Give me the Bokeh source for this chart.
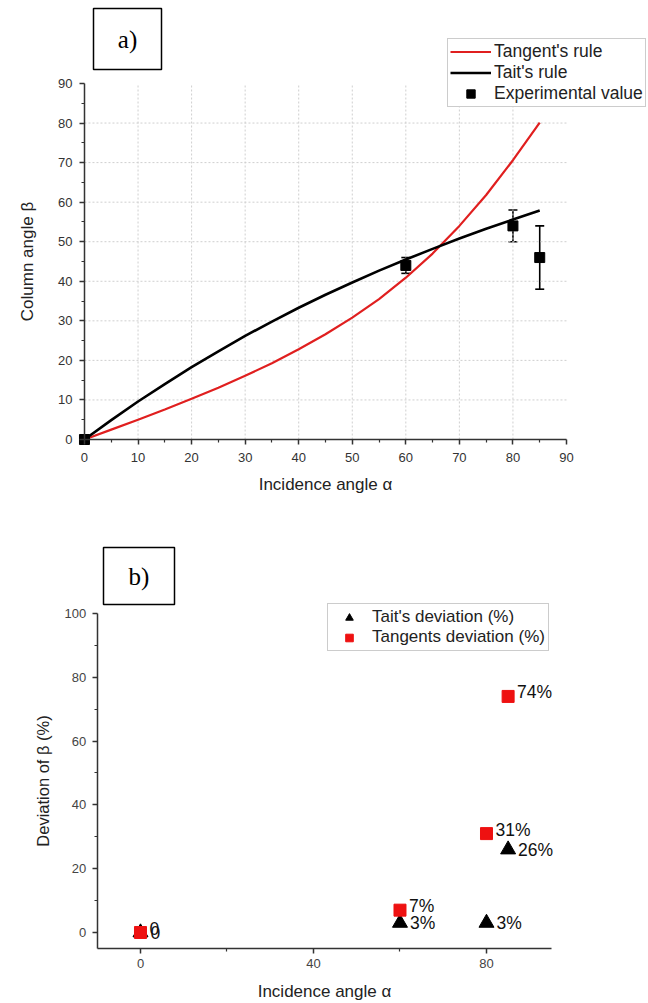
from bokeh.plotting import figure
from bokeh.models import (ColumnDataSource, Legend, LegendItem, Whisker, TeeHead,
                          BoxAnnotation, Label, LabelSet, FixedTicker, Range1d, LinearAxis)
from bokeh.core.properties import value
from bokeh.layouts import column
from bokeh.embed import file_html
from bokeh.resources import INLINE

# ---------------- data (panel a) ----------------
alpha = [0, 5, 10, 15, 20, 25, 30, 35, 40, 45, 50, 55, 60, 65, 70, 75, 80, 85]
tangent_rule = [0, 2.5, 5.0, 7.6, 10.3, 13.1, 16.1, 19.3, 22.8, 26.6, 30.8, 35.5,
                40.9, 47.0, 54.0, 61.8, 70.6, 80.1]
tait_rule = [0, 4.9, 9.6, 14.0, 18.3, 22.3, 26.2, 29.8, 33.3, 36.6, 39.7, 42.7,
             45.5, 48.2, 50.8, 53.3, 55.6, 57.9]
exp_alpha = [0, 60, 80, 85]
exp_beta = [0, 44, 54, 46]
exp_err = [0, 2, 4, 8]
a_ticks = [0, 10, 20, 30, 40, 50, 60, 70, 80, 90]

# ---------------- data (panel b) ----------------
dev_alpha = [0, 60, 80, 85]
tait_dev = [0, 3, 3, 26]
tangent_dev = [0, 7, 31, 74]
tait_dev_labels = ["0", "3%", "3%", "26%"]
tangent_dev_labels = ["0", "7%", "31%", "74%"]
b_xticks = [0, 40, 80]
b_yticks = [0, 20, 40, 60, 80, 100]

FONT = "Liberation Sans"
RED = "#e01f1f"


def make_axis(cls_kwargs, tick_size, label_size, label_color):
    ax = LinearAxis(**cls_kwargs)
    ax.axis_line_color = "#333333"
    ax.axis_line_width = 1.5
    ax.major_tick_line_color = "#333333"
    ax.minor_tick_line_color = "#333333"
    ax.major_tick_line_width = 1.5
    ax.minor_tick_line_width = 1.2
    ax.major_tick_out = 5
    ax.major_tick_in = 0
    ax.minor_tick_out = 3
    ax.minor_tick_in = 0
    ax.major_label_text_font = FONT
    ax.major_label_text_font_size = tick_size
    ax.major_label_text_color = label_color
    ax.axis_label_text_font = FONT
    ax.axis_label_text_font_size = label_size
    ax.axis_label_text_font_style = "normal"
    ax.axis_label_text_color = "#222222"
    return ax


# ================= panel a =================
# frame covers the whole figure; axes are pinned at data 0 with bounds
p1 = figure(width=648, height=500, output_backend="svg", toolbar_location=None,
            x_range=Range1d(-15.68, 105.31), y_range=Range1d(-15.42, 110.98),
            x_axis_location=None, y_axis_location=None,
            min_border=0, min_border_left=0, min_border_right=0,
            min_border_top=0, min_border_bottom=0)
p1.outline_line_color = None
p1.xgrid.visible = False
p1.ygrid.visible = False

# dotted grid limited to the axes' extent
g_ticks = a_ticks[1:-1]
p1.segment(x0=g_ticks, y0=[a_ticks[0]] * len(g_ticks), x1=g_ticks, y1=[a_ticks[-1]] * len(g_ticks),
           line_color="#cfcfcf", line_dash="2 2", line_width=1)
p1.segment(x0=[a_ticks[0]] * len(g_ticks), y0=g_ticks, x1=[a_ticks[-1]] * len(g_ticks), y1=g_ticks,
           line_color="#cfcfcf", line_dash="2 2", line_width=1)

xa1 = make_axis(dict(fixed_location=0, bounds=(0, 90),
                     ticker=FixedTicker(ticks=a_ticks, minor_ticks=list(range(5, 90, 10))),
                     axis_label="Incidence angle α"), "13px", "17px", "#333333")
xa1.major_label_standoff = 8
xa1.axis_label_standoff = 10
ya1 = make_axis(dict(fixed_location=0, bounds=(0, 90),
                     ticker=FixedTicker(ticks=a_ticks, minor_ticks=list(range(5, 90, 10))),
                     axis_label="Column angle β"), "13px", "17px", "#333333")
ya1.major_label_standoff = 7
ya1.axis_label_standoff = 18
p1.add_layout(xa1, "below")
p1.add_layout(ya1, "left")

src_a = ColumnDataSource(dict(alpha=alpha, tan=tangent_rule, tait=tait_rule))
r_tan = p1.line("alpha", "tan", source=src_a, line_color=RED, line_width=2.2)
r_tait = p1.line("alpha", "tait", source=src_a, line_color="black", line_width=2.6)

src_e = ColumnDataSource(dict(x=exp_alpha, y=exp_beta,
                              lo=[b - e for b, e in zip(exp_beta, exp_err)],
                              hi=[b + e for b, e in zip(exp_beta, exp_err)]))
wh = Whisker(source=src_e, base="x", lower="lo", upper="hi", line_color="black",
             line_width=1.6,
             upper_head=TeeHead(size=9, line_color="black", line_width=1.6),
             lower_head=TeeHead(size=9, line_color="black", line_width=1.6))
p1.add_layout(wh)
r_exp = p1.scatter("x", "y", source=src_e, marker="square", size=10,
                   fill_color="black", line_color="black")

leg1 = Legend(items=[LegendItem(label="Tangent's rule", renderers=[r_tan]),
                     LegendItem(label="Tait's rule", renderers=[r_tait]),
                     LegendItem(label="Experimental value", renderers=[r_exp])],
              location=(447, 393), orientation="vertical",
              padding=2, spacing=0, margin=0,
              glyph_width=41, glyph_height=21, label_height=21,
              label_standoff=3,
              label_text_font=FONT, label_text_font_size="17.5px",
              label_text_color="#222222",
              border_line_color="#999999", border_line_width=1,
              background_fill_color="white", background_fill_alpha=1)
p1.add_layout(leg1, "center")

p1.add_layout(BoxAnnotation(left=93, right=161, bottom=431, top=492,
                            left_units="screen", right_units="screen",
                            bottom_units="screen", top_units="screen",
                            fill_color="white", fill_alpha=1,
                            line_color="black", line_alpha=1, line_width=1.5))
p1.add_layout(Label(x=127, y=461, x_units="screen", y_units="screen", text="a)",
                    text_font="Liberation Serif", text_font_size="25px",
                    text_align="center", text_baseline="middle", text_color="black"))

# ================= panel b =================
p2 = figure(width=648, height=503, output_backend="svg", toolbar_location=None,
            x_range=Range1d(-32.37, 117.46), y_range=Range1d(-22.26, 135.42),
            x_axis_location=None, y_axis_location=None,
            min_border=0, min_border_left=0, min_border_right=0,
            min_border_top=0, min_border_bottom=0)
p2.outline_line_color = None
p2.xgrid.visible = False
p2.ygrid.visible = False

xa2 = make_axis(dict(fixed_location=-5, bounds=(-10, 95),
                     ticker=FixedTicker(ticks=b_xticks, minor_ticks=[20, 60]),
                     axis_label="Incidence angle α"), "13px", "17px", "#444444")
xa2.major_label_standoff = 6
xa2.axis_label_standoff = 10
ya2 = make_axis(dict(fixed_location=-10, bounds=(-5, 100),
                     ticker=FixedTicker(ticks=b_yticks, minor_ticks=[10, 30, 50, 70, 90]),
                     axis_label="Deviation of β (%)"), "13px", "16.5px", "#444444")
ya2.major_label_standoff = 6
ya2.axis_label_standoff = 10
p2.add_layout(xa2, "below")
p2.add_layout(ya2, "left")

src_b = ColumnDataSource(dict(x=dev_alpha, tait=tait_dev, tan=tangent_dev,
                              tait_lab=tait_dev_labels, tan_lab=tangent_dev_labels))
r_tait_dev = p2.scatter("x", "tait", source=src_b, marker="triangle", size=15,
                        fill_color="black", line_color="black")
r_tan_dev = p2.scatter("x", "tan", source=src_b, marker="square", size=12,
                       fill_color="#ee1111", line_color="#ee1111")
p2.add_layout(LabelSet(x="x", y="tait", text="tait_lab", source=src_b,
                       x_offset=10, y_offset=0, text_font=value(FONT), text_font_size="17.5px",
                       text_baseline="middle", text_color="#111111"))
p2.add_layout(LabelSet(x="x", y="tan", text="tan_lab", source=src_b,
                       x_offset=9, y_offset=4, text_font=value(FONT), text_font_size="17.5px",
                       text_baseline="middle", text_color="#111111"))

leg2 = Legend(items=[LegendItem(label="Tait's deviation (%)", renderers=[r_tait_dev]),
                     LegendItem(label="Tangents deviation (%)", renderers=[r_tan_dev])],
              location=(327, 352), orientation="vertical",
              padding=3, spacing=0, margin=0,
              glyph_width=36, glyph_height=19, label_height=19,
              label_standoff=5,
              label_text_font=FONT, label_text_font_size="17px",
              label_text_color="#222222",
              border_line_color="#999999", border_line_width=1,
              background_fill_color="white", background_fill_alpha=1)
p2.add_layout(leg2, "center")

p2.add_layout(BoxAnnotation(left=103, right=174, bottom=399, top=456,
                            left_units="screen", right_units="screen",
                            bottom_units="screen", top_units="screen",
                            fill_color="white", fill_alpha=1,
                            line_color="black", line_alpha=1, line_width=1.5))
p2.add_layout(Label(x=138.5, y=427, x_units="screen", y_units="screen", text="b)",
                    text_font="Liberation Serif", text_font_size="25px",
                    text_align="center", text_baseline="middle", text_color="black"))

layout = column(p1, p2, spacing=0)
open("out.html", "w").write(file_html(layout, INLINE))
